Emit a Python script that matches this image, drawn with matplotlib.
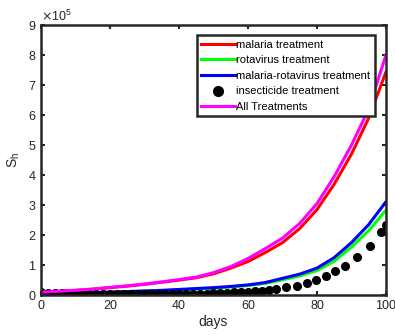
import matplotlib
matplotlib.use("Agg")
import matplotlib.pyplot as plt
from matplotlib.ticker import ScalarFormatter

plt.rcParams["font.family"] = ["Liberation Sans", "DejaVu Sans"]

# days for the treatment curves
days = [0, 5, 10, 15, 20, 25, 30, 35, 40, 45, 50, 55, 60, 65, 70, 75, 80, 85, 90, 95, 100]

malaria = [0.10, 0.13, 0.16, 0.20, 0.25, 0.30, 0.36, 0.43, 0.50, 0.58, 0.71, 0.90, 1.12,
           1.42, 1.75, 2.22, 2.85, 3.70, 4.70, 5.90, 7.43]
rotavirus = [0.05, 0.06, 0.07, 0.08, 0.09, 0.11, 0.13, 0.15, 0.17, 0.20, 0.23, 0.27, 0.32,
             0.39, 0.51, 0.64, 0.82, 1.13, 1.60, 2.15, 2.83]
mal_rota = [0.05, 0.06, 0.07, 0.09, 0.10, 0.12, 0.14, 0.16, 0.19, 0.22, 0.25, 0.29, 0.34,
            0.42, 0.56, 0.70, 0.90, 1.25, 1.75, 2.35, 3.11]
all_treat = [0.10, 0.13, 0.16, 0.20, 0.26, 0.31, 0.37, 0.44, 0.52, 0.60, 0.75, 0.95, 1.22,
             1.55, 1.90, 2.39, 3.05, 3.95, 5.00, 6.20, 8.00]

# insecticide treatment: solver output points
ins_days = [0, 2, 4, 6, 8, 10, 12, 14, 16, 18, 20, 22, 24, 26, 28, 30, 32, 34, 36, 38,
            40, 42, 44, 46, 48, 50, 52, 54, 56, 58, 60, 62, 64, 66, 68,
            71.0, 74.3, 77.0, 79.8, 82.6, 85.3, 88.1, 91.7, 95.4, 98.7, 100]
insecticide = [0.10, 0.08, 0.07, 0.06, 0.05, 0.05, 0.05, 0.05, 0.05, 0.05, 0.05, 0.05,
               0.05, 0.05, 0.05, 0.05, 0.05, 0.05, 0.05, 0.05, 0.05, 0.05, 0.05, 0.05,
               0.05, 0.06, 0.07, 0.08, 0.09, 0.10, 0.11, 0.13, 0.15, 0.17, 0.20,
               0.26, 0.32, 0.41, 0.52, 0.63, 0.81, 0.98, 1.28, 1.63, 2.10, 2.33]

scale = 1e5

fig = plt.figure(figsize=(3.95, 3.35), dpi=100)
ax = fig.add_axes([0.104, 0.119, 0.873, 0.806])

lw = 2.2
ax.plot(days, [v * scale for v in malaria], color="#ff0000", lw=lw, label="malaria treatment")
ax.plot(days, [v * scale for v in rotavirus], color="#00ff00", lw=lw, label="rotavirus treatment")
ax.plot(days, [v * scale for v in mal_rota], color="#0000ff", lw=lw, label="malaria-rotavirus treatment")
ax.plot(ins_days, [v * scale for v in insecticide], "o", color="black", ms=5.5,
        label="insecticide treatment")
ax.plot(days, [v * scale for v in all_treat], color="#ff00ff", lw=lw, label="All Treatments")

ax.set_xlim(0, 100)
ax.set_ylim(0, 9e5)
ax.set_xticks(range(0, 101, 20))
ax.set_yticks([i * scale for i in range(10)])
fmt = ScalarFormatter(useMathText=True)
fmt.set_powerlimits((0, 0))
ax.yaxis.set_major_formatter(fmt)
ax.yaxis.get_offset_text().set_fontsize(9)
ax.yaxis.get_offset_text().set_color("#262626")

ax.tick_params(direction="in", top=True, right=True, length=3, width=1.5,
               labelsize=9, colors="#262626")
for s in ax.spines.values():
    s.set_linewidth(1.8)
    s.set_color("#262626")

ax.set_xlabel("days", fontsize=10, color="#262626", labelpad=2)
ax.set_ylabel("S$_\\mathregular{h}$", fontsize=10, color="#262626", labelpad=4)

leg = ax.legend(loc="upper right", bbox_to_anchor=(0.968, 0.962), fontsize=8,
                numpoints=1, handlelength=3.0, handletextpad=0.15, borderpad=0.4,
                labelspacing=0.5, fancybox=False, framealpha=1, borderaxespad=0)
leg.get_frame().set_edgecolor("#262626")
leg.get_frame().set_linewidth(1.8)
for h in leg.legend_handles:
    h.set_markersize(7)

fig.savefig("out.png", dpi=100)
